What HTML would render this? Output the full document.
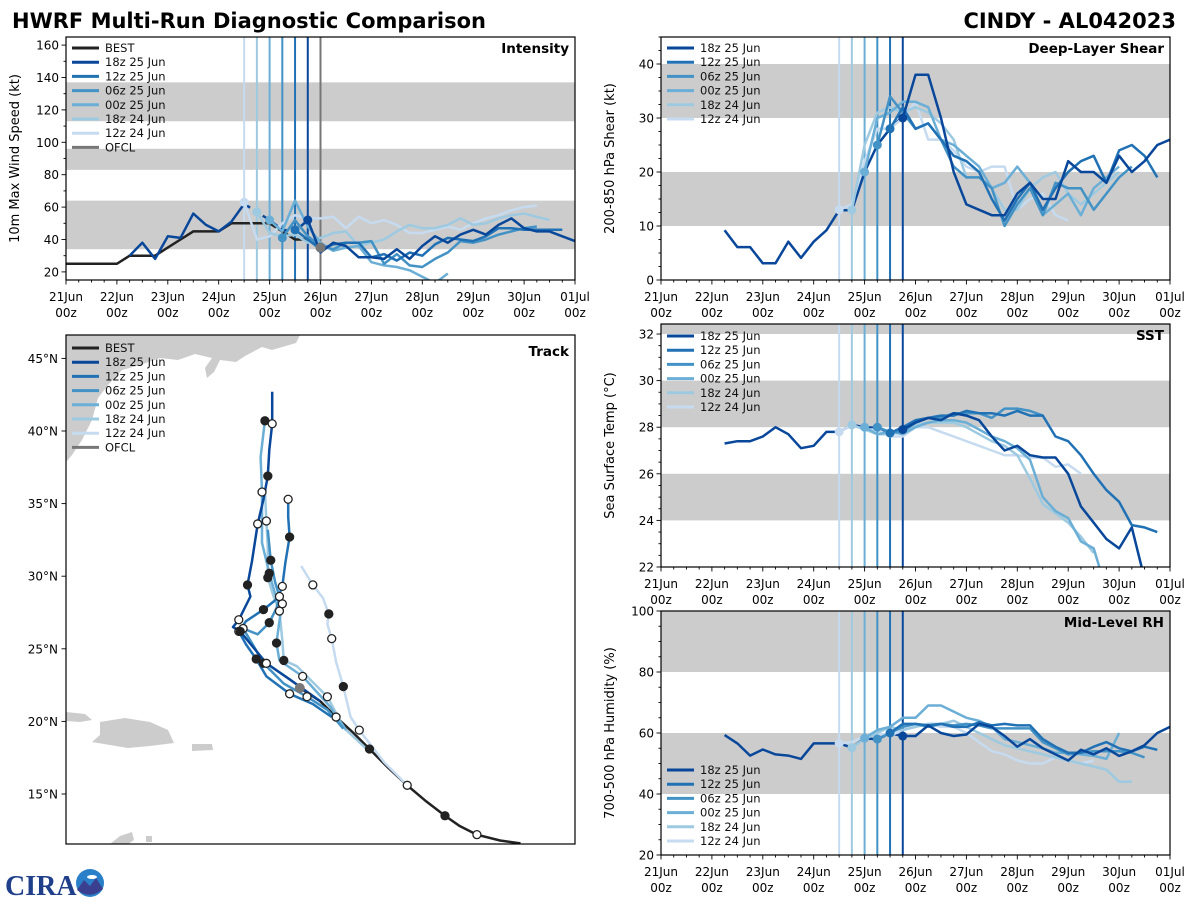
<!DOCTYPE html>
<html><head><meta charset="utf-8">
<style>
html,body{margin:0;padding:0;background:#fff;}
svg{display:block;font-family:"DejaVu Sans","Liberation Sans",sans-serif;}
</style></head>
<body>
<svg id="chart" width="1200" height="900" viewBox="0 0 1200 900">
  <rect x="0" y="0" width="1200" height="900" fill="#fff"/>
  <text x="12" y="28" font-size="21" font-weight="bold" fill="#000">HWRF Multi-Run Diagnostic Comparison</text>
  <text x="1176" y="28" font-size="21" font-weight="bold" fill="#000" text-anchor="end">CINDY - AL042023</text>
  <g>
    <text x="5" y="895" font-size="28" font-weight="bold" font-family="Liberation Serif, serif" fill="#1f3f8a">CIRA</text>
    <circle cx="90" cy="883" r="14" fill="#2a7fc9"/>
    <path d="M77,890 L84,880 L90,886 L96,878 L103,889 Q90,900 77,890 Z" fill="#3a3f8f"/>
    <ellipse cx="92" cy="877" rx="5" ry="2" fill="#fff"/>
  </g>
  <defs>
    <clipPath id="clip-int"><rect x="66" y="37" width="509" height="243"/></clipPath>
    <clipPath id="clip-shr"><rect x="661" y="37" width="509" height="243"/></clipPath>
    <clipPath id="clip-sst"><rect x="661" y="324" width="509" height="243"/></clipPath>
    <clipPath id="clip-rh"><rect x="661" y="611" width="509" height="244"/></clipPath>
    <clipPath id="clip-trk"><rect x="66" y="335" width="509" height="509"/></clipPath>
  </defs>
  <g id="land" clip-path="url(#clip-trk)" fill="#cccccc">
    <path d="M66,335 L300,335 L296,343 L272,350 L262,347 L245,356 L236,362 L220,360 L214,372 L207,378 L205,368 L212,358 L195,354 L178,360 L160,358 L140,365 L122,370 L108,385 L98,398 L92,420 L82,440 L72,455 L66,462 Z"/>
    <path d="M66,712 L85,714 L92,720 L80,722 L66,721 Z"/>
    <path d="M100,722 L125,718 L150,722 L168,730 L174,743 L150,746 L128,748 L110,745 L92,742 L100,735 Z"/>
    <path d="M192,744 L212,744 L213,750 L192,751 Z"/>
    <path d="M110,844 L120,836 L132,832 L134,840 L128,844 Z"/>
    <path d="M146,836 L152,836 L152,842 L146,842 Z"/>
  </g>
  <g id="plots"></g>
</svg>
<script>
// ---------- DATA ----------
const runLabels = ['18z 25 Jun','12z 25 Jun','06z 25 Jun','00z 25 Jun','18z 24 Jun','12z 24 Jun'];
const runInit = [4.75, 4.5, 4.25, 4.0, 3.75, 3.5]; // days since 21 Jun 00z
const dayLabels = ['21Jun','22Jun','23Jun','24Jun','25Jun','26Jun','27Jun','28Jun','29Jun','30Jun','01Jul'];

const bestIntensity = [25,25,25,25,25,30,30,30,35,40,45,45,45,50,50,50,50,45,40,40,35];
const histIntensityStart = 1.25;
const histIntensity = [30,38,28,42,41,56,49,45,51,62,57,52,46,45,52];
const intensity18z25 = [52,32,38,36,29,29,28,34,28,36,42,38,43,46,43,49,53,47,45,45,42,39];
const intensity12z25 = [46,40,34,37,38,38,29,31,27,32,30,37,41,40,39,42,47,47,46,46,46,46];
const intensity06z25 = [41,52,42,36,34,38,38,39,25,31,24,23,28,32,39,38,40,43,45,47,48];
const intensity00z25 = [52,45,64,48,38,33,35,36,26,24,23,21,17,13,19];
const intensity18z24 = [57,44,42,43,38,41,44,45,36,38,40,45,49,47,47,49,53,49,50,53,55,56,54,52];
const intensity12z24 = [63,40,42,50,55,53,53,54,47,54,50,52,49,44,44,46,48,46,50,53,55,58,60,61];

const histShearStart = 1.25;
const histShear = [9.2,6.1,6.1,3.1,3.1,7.1,4.1,7.1,9.2,12.9,12.9,20,25,28,30.3];
const shear18z25 = [30,38,38,30,20,14,13,12,12,16,18,15,15,22,20,20,18,23,20,22,25,26];
const shear12z25 = [28,32,28,29,26,23,22,20,15,11,15,18,13,17,20,22,23,18,24,25,23,19];
const shear06z25 = [25,34,31,28,29,26,21,19,19,17,10,14,17,12,18,17,17,13,16,19,21];
const shear00z25 = [20,30,31,33,33,32,26,25,23,21,17,18,21,18,12,14,16,12,17,19,21];
const shear18z24 = [13,25,31,32,31,32,31,29,26,19,19,17,13,13,17,19,20,16,14,16,18,20];
const shear12z24 = [13,14,22,28,28,30,33,26,26,24,21,20,21,21,13,15,16,12,11];

const histSstStart = 1.25;
const histSst = [27.3,27.4,27.4,27.6,28.0,27.7,27.1,27.2,27.8,27.8,28.1,28.0,27.97,27.75,27.9];
const sst18z25 = [27.9,28.2,28.4,28.3,28.6,28.5,28.3,27.6,27.0,27.2,26.8,26.7,26.7,26.0,24.6,23.9,23.2,22.8,23.7,21.5];
const sst12z25 = [27.75,28.0,28.3,28.4,28.5,28.5,28.7,28.6,28.6,28.5,28.7,28.5,28.5,27.6,27.4,26.8,26.0,25.3,24.8,23.8,23.7,23.5];
const sst06z25 = [28.0,27.8,27.8,28.2,28.4,28.4,28.6,28.6,28.6,28.4,28.8,28.8,28.7,28.5];
const sst00z25 = [28.0,27.7,27.8,27.7,28.0,28.2,28.3,28.3,28.2,27.9,27.6,27.4,27.1,26.6,25.0,24.4,24.1,23.1,22.8,21.0];
const sst18z24 = [28.1,27.9,27.7,27.7,27.8,28.1,28.2,28.2,28.2,28.0,27.7,27.4,27.2,26.8,25.8,24.7,24.3,23.9,23.3,22.6];
const sst12z24 = [27.8,28.1,27.9,27.9,27.6,27.6,28.0,28.0,27.8,27.6,27.4,27.2,27.0,26.8,26.8,26.7,26.7,26.3,26.4,26.0];

const histRhStart = 1.25;
const histRh = [59.3,56.6,52.6,54.6,53,52.6,51.5,56.6,56.6,56.6,55.2,58.3,57.9,59.9,59];
const rh18z25 = [59,59,62.5,60,59,59.5,63,62,59,55.5,58,55,53,51,54.5,53,55,52.5,54,56,60,62];
const rh12z25 = [60,63,63,62.5,63,62,62,63.5,62.5,63,62.5,62.5,58,55.5,53.5,53.5,55.5,57,55,54,55.5,54.5];
const rh06z25 = [58,60,62,63,62,63,62.5,63,62.5,61.5,61.5,61.5,61.5,57,55,53,53.5,54,54,54,53.5,52];
const rh00z25 = [58.3,61,62,65,65,69,69,67,65,64,62,58,57,56,55,53.5,53.5,53,52.5,51.5,60];
const rh18z24 = [55.2,58,60,62,61,62,63,63,64,62,60,58,56,55,54,53,52,51,50,49,48,44,44];
const rh12z24 = [56.6,57,59,60,59,61,62,63,62,62,60,57,54,53,51,50,50,52,51,50,51];

const bestLon = [-44.7,-46.1,-47.7,-48.9,-49.9,-51.2,-52.5,-53.8,-55.1,-56.2,-57.4,-58.5,-59.9];
const bestLat = [11.6,11.8,12.2,12.8,13.5,14.5,15.6,16.8,18.1,19.2,20.3,21.4,22.3];
const track18z25Lon = [-58.5,-60.6,-62.2,-63.1,-64.0,-64.5,-64.1,-63.3,-63.5,-63.2,-62.8,-62.4,-62.1,-62.0,-61.8,-61.8];
const track18z25Lat = [21.4,22.9,24.0,25.1,26.2,26.5,27.0,28.6,29.4,31.0,33.6,35.3,36.9,38.7,40.5,42.7];
const track12z25Lon = [-57.7,-59.0,-60.6,-62.2,-62.9,-63.6,-64.1,-63.6,-62.4,-61.4,-61.1,-60.9,-60.6,-60.7,-60.7];
const track12z25Lat = [20.3,21.2,21.9,23.1,24.3,25.3,26.2,26.9,27.7,28.5,29.3,30.9,32.7,34.1,35.3];
const track06z25Lon = [-56.9,-58.0,-59.4,-61.0,-62.4,-63.2,-63.8,-62.8,-62.0,-61.5,-61.3,-61.6,-61.9,-62.1];
const track06z25Lat = [19.5,20.8,21.7,22.6,24.0,25.4,26.4,26.0,26.8,27.8,28.6,29.6,31.1,33.2];
const track00z25Lon = [-56.7,-57.8,-59.7,-61.3,-61.5,-61.3,-61.1,-61.6,-62.0,-62.5,-62.5,-62.6,-62.3];
const track00z25Lat = [19.4,21.0,23.1,24.2,25.4,26.9,28.1,28.8,30.2,32.3,35.8,38.2,40.7];
const track18z24Lon = [-55.3,-56.9,-58.0,-60.1,-61.0,-61.1,-61.3,-61.7,-62.1,-62.1,-62.2,-62.3];
const track18z24Lat = [18.1,19.6,21.7,23.8,24.2,25.6,27.6,28.6,29.9,32.0,33.8,35.9];
const track12z24Lon = [-52.5,-54.1,-55.8,-56.4,-56.9,-57.4,-57.7,-58.0,-57.9,-58.3,-59.0,-59.8];
const track12z24Lat = [15.6,17.2,19.4,20.3,22.4,24.1,25.7,26.7,27.4,28.5,29.4,30.7];
const ofclLon = [-59.9];
const ofclLat = [22.3];

// ---------- STYLE ----------
const runColors = ['#08479a','#2171b5','#4292c6','#6baed6','#9ecae1','#c6dbef'];
const NS = 'http://www.w3.org/2000/svg';
const plots = document.getElementById('plots');

function mk(tag, parent) {
  const el = document.createElementNS(NS, tag);
  (parent || plots).appendChild(el);
  return el;
}
function panel(x0, y0, w, h, vmin, vmax) {
  return { x0, y0, w, h, vmin, vmax,
    xT: t => x0 + t * (w / 10),
    yV: v => y0 + h - (v - vmin) / (vmax - vmin) * h };
}
const P = {
  int: panel(66, 37, 509, 243, 15, 165),
  shr: panel(661, 37, 509, 243, 0, 45),
  sst: panel(661, 324, 509, 243, 22, 32.43),
  rh:  panel(661, 611, 509, 244, 20, 100)
};
const trk = { x0: 66, y0: 335, w: 509, h: 509,
  xL: lon => 66 + (lon + 76) * 14.52,
  yL: lat => 794 - (lat - 15) * 14.52 };

function seriesPath(p, start, vals) {
  return vals.map((v, i) => (i ? 'L' : 'M') + p.xT(start + i * 0.25).toFixed(1) + ',' + p.yV(v).toFixed(1)).join(' ');
}

function drawBands(p, bands, name) {
  bands.forEach(b => {
    const r = mk('rect');
    const y1 = Math.max(p.yV(b[1]), p.y0), y2 = Math.min(p.yV(b[0]), p.y0 + p.h);
    r.setAttribute('x', p.x0); r.setAttribute('width', p.w);
    r.setAttribute('y', y1); r.setAttribute('height', y2 - y1);
    r.setAttribute('fill', '#cccccc');
    
    
  });
}

function drawXAxis(p, name) {
  const g = mk('g');
  
  
  const yb = p.y0 + p.h;
  for (let q = 0; q <= 40; q++) {
    const x = p.xT(q / 4);
    const tk = mk('line', g);
    tk.setAttribute('x1', x); tk.setAttribute('x2', x);
    tk.setAttribute('y1', yb); tk.setAttribute('y2', yb + (q % 4 ? 2.5 : 4.5));
    tk.setAttribute('stroke', '#000'); tk.setAttribute('stroke-width', '0.9');
  }
  dayLabels.forEach((d, i) => {
    const x = p.xT(i);
    const t1 = mk('text', g);
    t1.setAttribute('x', x); t1.setAttribute('y', yb + 21);
    t1.setAttribute('text-anchor', 'middle'); t1.setAttribute('font-size', '12');
    t1.textContent = d;
    
    
    const t2 = mk('text', g);
    t2.setAttribute('x', x); t2.setAttribute('y', yb + 37);
    t2.setAttribute('text-anchor', 'middle'); t2.setAttribute('font-size', '12');
    t2.textContent = '00z';
    
    
  });
}

function drawYAxis(p, major, minor, title, titleX, name) {
  const g = mk('g');
  
  
  const start = Math.ceil(p.vmin / minor) * minor;
  for (let v = start; v <= p.vmax + 1e-6; v += minor) {
    const y = p.yV(v);
    const isMaj = Math.abs(v / major - Math.round(v / major)) < 1e-6;
    const tk = mk('line', g);
    tk.setAttribute('x1', p.x0); tk.setAttribute('x2', p.x0 - (isMaj ? 4.5 : 2.5));
    tk.setAttribute('y1', y); tk.setAttribute('y2', y);
    tk.setAttribute('stroke', '#000'); tk.setAttribute('stroke-width', '0.9');
    if (isMaj) {
      const t = mk('text', g);
      t.setAttribute('x', p.x0 - 7); t.setAttribute('y', y + 4.5);
      t.setAttribute('text-anchor', 'end'); t.setAttribute('font-size', '12');
      t.textContent = Math.round(v);
      
      
    }
  }
  const tt = mk('text', g);
  const cy = p.y0 + p.h / 2;
  tt.setAttribute('x', titleX); tt.setAttribute('y', cy);
  tt.setAttribute('transform', 'rotate(-90 ' + titleX + ' ' + cy + ')');
  tt.setAttribute('text-anchor', 'middle'); tt.setAttribute('font-size', '13');
  tt.textContent = title;
  
  
}

function drawFrame(x, y, w, h, name) {
  const r = mk('rect');
  r.setAttribute('x', x); r.setAttribute('y', y); r.setAttribute('width', w); r.setAttribute('height', h);
  r.setAttribute('fill', 'none'); r.setAttribute('stroke', '#000'); r.setAttribute('stroke-width', '1.2');
  
  
}

function drawPanelTitle(x, y, txt, name) {
  const t = mk('text');
  t.setAttribute('x', x); t.setAttribute('y', y);
  t.setAttribute('text-anchor', 'end'); t.setAttribute('font-size', '13.5'); t.setAttribute('font-weight', 'bold');
  t.textContent = txt;
  
  
}

function drawLegend(x, y, entries, name) {
  const g = mk('g');
  
  
  entries.forEach((e, i) => {
    const yy = y + i * 14.2;
    const ln = mk('line', g);
    ln.setAttribute('x1', x); ln.setAttribute('x2', x + 27);
    ln.setAttribute('y1', yy); ln.setAttribute('y2', yy);
    ln.setAttribute('stroke', e[1]); ln.setAttribute('stroke-width', '3');
    
    
    const t = mk('text', g);
    t.setAttribute('x', x + 33); t.setAttribute('y', yy + 4);
    t.setAttribute('font-size', '11.5'); t.setAttribute('fill', '#111');
    t.textContent = e[0];
    
    
  });
}

function drawTimePanel(p, key, bands, runs, hist, histStart, histDashFrom, best, title, ytitle, major, minor, withOfcl) {
  const name = key;
  drawBands(p, bands, name);
  const g = mk('g');
  g.setAttribute('clip-path', 'url(#clip-' + key + ')');
  
  
  for (let i = runInit.length - 1; i >= 0; i--) {
    const vl = mk('line', g);
    const x = p.xT(runInit[i]);
    vl.setAttribute('x1', x); vl.setAttribute('x2', x);
    vl.setAttribute('y1', p.y0); vl.setAttribute('y2', p.y0 + p.h);
    vl.setAttribute('stroke', runColors[i]); vl.setAttribute('stroke-width', '2');
    
    
  }
  if (withOfcl) {
    const vl = mk('line', g);
    vl.setAttribute('x1', p.xT(5)); vl.setAttribute('x2', p.xT(5));
    vl.setAttribute('y1', p.y0); vl.setAttribute('y2', p.y0 + p.h);
    vl.setAttribute('stroke', '#777'); vl.setAttribute('stroke-width', '2');
    
    
  }
  if (best) {
    const bp = mk('path', g);
    bp.setAttribute('d', seriesPath(p, 0, best));
    bp.setAttribute('fill', 'none'); bp.setAttribute('stroke', '#222'); bp.setAttribute('stroke-width', '2.5');
    
    
  }
  const nSolid = histDashFrom == null ? hist.length : Math.round((histDashFrom - histStart) / 0.25) + 1;
  const hp = mk('path', g);
  hp.setAttribute('d', seriesPath(p, histStart, hist.slice(0, nSolid)));
  hp.setAttribute('fill', 'none'); hp.setAttribute('stroke', runColors[0]); hp.setAttribute('stroke-width', '2.5');
  hp.setAttribute('stroke-linejoin', 'round');
  
  
  if (nSolid < hist.length) {
    const hd = mk('path', g);
    hd.setAttribute('d', seriesPath(p, histStart + (nSolid - 1) * 0.25, hist.slice(nSolid - 1)));
    hd.setAttribute('fill', 'none'); hd.setAttribute('stroke', runColors[0]); hd.setAttribute('stroke-width', '2.5');
    hd.setAttribute('stroke-dasharray', '7,4');
    
    
  }
  for (let i = runs.length - 1; i >= 0; i--) {
    const rp = mk('path', g);
    rp.setAttribute('d', seriesPath(p, runInit[i], runs[i]));
    rp.setAttribute('fill', 'none'); rp.setAttribute('stroke', runColors[i]); rp.setAttribute('stroke-width', '2.5');
    rp.setAttribute('stroke-linejoin', 'round');
    
    
    const c = mk('circle', g);
    c.setAttribute('cx', p.xT(runInit[i])); c.setAttribute('cy', p.yV(runs[i][0]));
    c.setAttribute('r', '4.5'); c.setAttribute('fill', runColors[i]);
    
    
  }
  if (withOfcl && best) {
    const c = mk('circle', g);
    c.setAttribute('cx', p.xT(5)); c.setAttribute('cy', p.yV(best[20]));
    c.setAttribute('r', '5'); c.setAttribute('fill', '#777');
    
    
  }
  drawFrame(p.x0, p.y0, p.w, p.h, name);
  drawXAxis(p, name);
  drawYAxis(p, major, minor, ytitle, p.x0 - 47, name);
  drawPanelTitle(p.x0 + p.w - 6, p.y0 + 16, title, name);
}

const runLegend = runLabels.map((l, i) => [l, runColors[i]]);
const fullLegend = [['BEST', '#222']].concat(runLegend).concat([['OFCL', '#777']]);

drawTimePanel(P.int, 'int', [[34,64],[83,96],[113,137]],
  [intensity18z25, intensity12z25, intensity06z25, intensity00z25, intensity18z24, intensity12z24],
  histIntensity, histIntensityStart, 3.5, bestIntensity, 'Intensity', '10m Max Wind Speed (kt)', 20, 10, true);
drawLegend(72, 48, fullLegend, 'intensity');

drawTimePanel(P.shr, 'shr', [[10,20],[30,40]],
  [shear18z25, shear12z25, shear06z25, shear00z25, shear18z24, shear12z24],
  histShear, histShearStart, null, null, 'Deep-Layer Shear', '200-850 hPa Shear (kt)', 10, 2.5, false);
drawLegend(667, 48, runLegend, 'shear');

drawTimePanel(P.sst, 'sst', [[24,26],[28,30],[32,40]],
  [sst18z25, sst12z25, sst06z25, sst00z25, sst18z24, sst12z24],
  histSst, histSstStart, null, null, 'SST', 'Sea Surface Temp (°C)', 2, 0.5, false);
drawLegend(667, 336, runLegend, 'sst');

drawTimePanel(P.rh, 'rh', [[40,60],[80,100]],
  [rh18z25, rh12z25, rh06z25, rh00z25, rh18z24, rh12z24],
  histRh, histRhStart, null, null, 'Mid-Level RH', '700-500 hPa Humidity (%)', 20, 5, false);
drawLegend(667, 770, runLegend, 'rh');

// ---------- TRACK ----------
(function () {
  const g = mk('g');
  g.setAttribute('clip-path', 'url(#clip-trk)');
  
  
  const tracks = [
    [track12z24Lon, track12z24Lat, runColors[5], '12z-24-jun'],
    [track18z24Lon, track18z24Lat, runColors[4], '18z-24-jun'],
    [track00z25Lon, track00z25Lat, runColors[3], '00z-25-jun'],
    [track06z25Lon, track06z25Lat, runColors[2], '06z-25-jun'],
    [track12z25Lon, track12z25Lat, runColors[1], '12z-25-jun'],
    [track18z25Lon, track18z25Lat, runColors[0], '18z-25-jun']
  ];
  const bp = mk('path', g);
  bp.setAttribute('d', bestLon.map((lo, i) => (i ? 'L' : 'M') + trk.xL(lo).toFixed(1) + ',' + trk.yL(bestLat[i]).toFixed(1)).join(' '));
  bp.setAttribute('fill', 'none'); bp.setAttribute('stroke', '#222'); bp.setAttribute('stroke-width', '2.5');
  
  
  tracks.forEach(tr => {
    const p = mk('path', g);
    p.setAttribute('d', tr[0].map((lo, i) => (i ? 'L' : 'M') + trk.xL(lo).toFixed(1) + ',' + trk.yL(tr[1][i]).toFixed(1)).join(' '));
    p.setAttribute('fill', 'none'); p.setAttribute('stroke', tr[2]); p.setAttribute('stroke-width', '2.5');
    p.setAttribute('stroke-linejoin', 'round');
    
    
  });
  const allMarks = [[bestLon, bestLat]].concat(tracks.map(t => [t[0], t[1]]));
  allMarks.forEach(tr => {
    for (let i = 2; i < tr[0].length; i += 2) {
      const c = mk('circle', g);
      c.setAttribute('cx', trk.xL(tr[0][i])); c.setAttribute('cy', trk.yL(tr[1][i]));
      c.setAttribute('r', '4');
      const filled = (i / 2) % 2 === 0;
      c.setAttribute('fill', filled ? '#222' : '#fff');
      c.setAttribute('stroke', '#222'); c.setAttribute('stroke-width', '1.3');
      
      
    }
  });
  ofclLon.forEach((lo, i) => {
    const c = mk('circle', g);
    c.setAttribute('cx', trk.xL(lo)); c.setAttribute('cy', trk.yL(ofclLat[i]));
    c.setAttribute('r', '5'); c.setAttribute('fill', '#777');
    
    
  });
  drawFrame(66, 335, 509, 509, 'track');
  const latTicks = [15, 20, 25, 30, 35, 40, 45];
  latTicks.forEach(la => {
    const y = trk.yL(la);
    const tk = mk('line');
    tk.setAttribute('x1', 66); tk.setAttribute('x2', 61.5); tk.setAttribute('y1', y); tk.setAttribute('y2', y);
    tk.setAttribute('stroke', '#000'); tk.setAttribute('stroke-width', '0.9');
    const t = mk('text');
    t.setAttribute('x', 58); t.setAttribute('y', y + 4.5);
    t.setAttribute('text-anchor', 'end'); t.setAttribute('font-size', '12');
    t.textContent = la + '°N';
    
    
  });
  drawPanelTitle(569, 356, 'Track', 'track');
  drawLegend(72, 348, fullLegend, 'track');
})();
</script>
</body></html>
